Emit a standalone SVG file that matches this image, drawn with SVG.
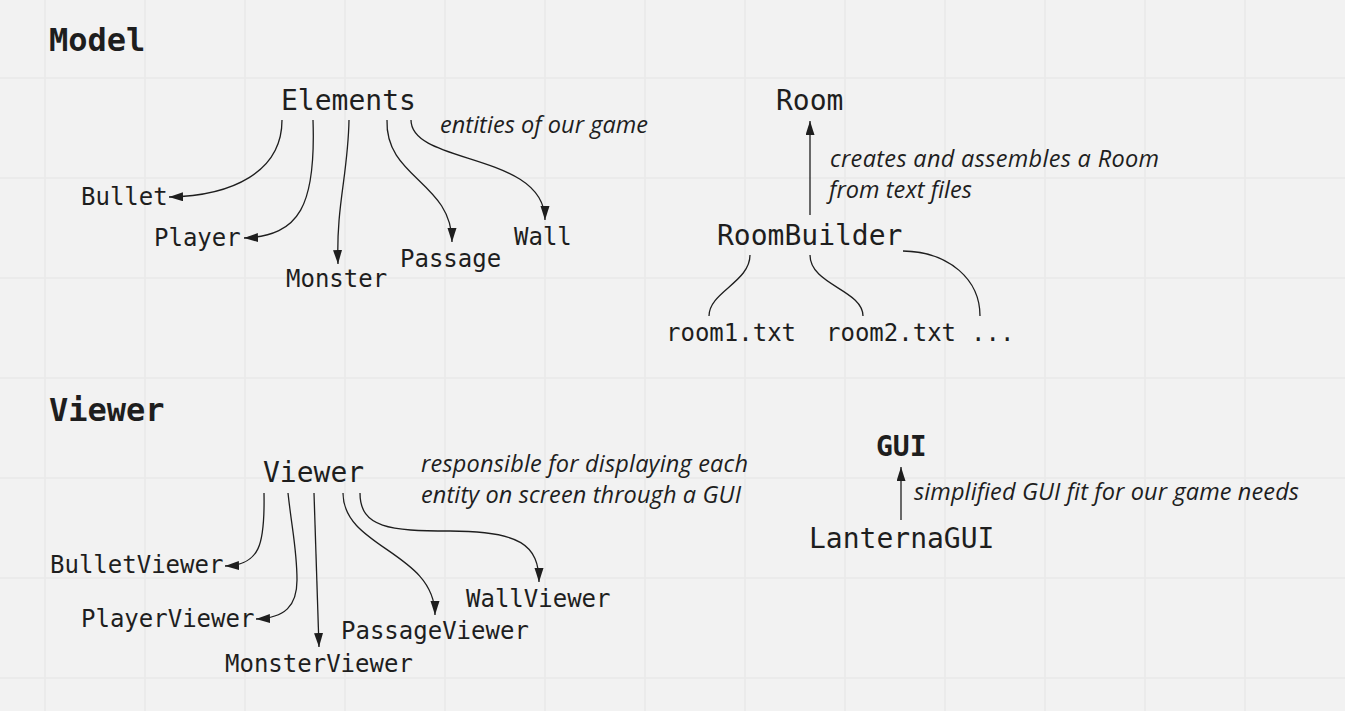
<svg xmlns="http://www.w3.org/2000/svg" width="1345" height="711" viewBox="0 0 1345 711">
<defs>
<style>
.mono{font-family:"DejaVu Sans Mono","Liberation Mono",monospace;fill:#1e1e1e}
.p{font-size:28px}
.c{font-size:24px}
.h{font-size:32px;font-weight:bold}
.hb{font-size:28px;font-weight:bold}
.note{font-family:"Open Sans","Noto Sans",sans-serif;font-style:italic;font-size:23.5px;fill:#1e1e1e}
.edge{fill:none;stroke:#1e1e1e;stroke-width:1.3}
.grid{stroke:#e9e9e9;stroke-width:1.6}
</style>
<marker id="ah" markerUnits="userSpaceOnUse" markerWidth="15" markerHeight="10" refX="14" refY="4.5" orient="auto">
<path d="M0,0 L14,4.5 L0,9 Z" fill="#1e1e1e"/>
</marker>
</defs>
<rect width="1345" height="711" fill="#f2f2f2"/>
<g id="grid">
<path class="grid" d="M45 0V711M145 0V711M245 0V711M345 0V711M445 0V711M545 0V711M645 0V711M745 0V711M845 0V711M945 0V711M1045 0V711M1145 0V711M1245 0V711M0 78H1345M0 178H1345M0 278H1345M0 378H1345M0 478H1345M0 578H1345M0 678H1345"/>
</g>
<g id="connectors">
<path class="edge" marker-end="url(#ah)" d="M282 120 C282 172 232 196 169 197"/>
<path class="edge" marker-end="url(#ah)" d="M313 120 C316 205 300 236 244 238"/>
<path class="edge" marker-end="url(#ah)" d="M349 120 C348 175 336 205 338 264"/>
<path class="edge" marker-end="url(#ah)" d="M387 120 C385 178 452 182 452 242"/>
<path class="edge" marker-end="url(#ah)" d="M411 120 C411 165 545 152 545 220"/>
<path class="edge" marker-end="url(#ah)" d="M810 215 L810 121"/>
<path class="edge" d="M750 255 C750 282 709 292 709 316"/>
<path class="edge" d="M810 255 C810 285 863 290 863 316"/>
<path class="edge" d="M903 251 C950 252 980 280 980 316"/>
<path class="edge" marker-end="url(#ah)" d="M264 493 C265 545 260 565 225 566"/>
<path class="edge" marker-end="url(#ah)" d="M288 493 C292 530 297 550 297 580 C297 606 285 618 256 619"/>
<path class="edge" marker-end="url(#ah)" d="M314 493 L319 647"/>
<path class="edge" marker-end="url(#ah)" d="M343 493 C343 548 435 552 435 615"/>
<path class="edge" marker-end="url(#ah)" d="M360 493 C360 528 390 531 450 531 C520 531 539 545 539 582"/>
<path class="edge" marker-end="url(#ah)" d="M901 520 L901 467"/>
</g>
<g id="title-model"><text class="mono h" x="49" y="51">Model</text></g>
<g id="node-elements"><text class="mono p" x="281" y="110">Elements</text></g>
<g id="note-elements"><text class="note" x="440" y="133" textLength="208">entities of our game</text></g>
<g id="node-bullet"><text class="mono c" x="81" y="205">Bullet</text></g>
<g id="node-player"><text class="mono c" x="154" y="246">Player</text></g>
<g id="node-monster"><text class="mono c" x="286" y="287">Monster</text></g>
<g id="node-passage"><text class="mono c" x="400" y="267">Passage</text></g>
<g id="node-wall"><text class="mono c" x="514" y="245">Wall</text></g>
<g id="node-room"><text class="mono p" x="776" y="110">Room</text></g>
<g id="note-room"><text class="note" x="830" y="167" textLength="329">creates and assembles a Room</text><text class="note" x="829" y="198" textLength="143">from text files</text></g>
<g id="node-roombuilder"><text class="mono p" x="717" y="245">RoomBuilder</text></g>
<g id="node-room1"><text class="mono c" x="666" y="341">room1.txt</text></g>
<g id="node-room2"><text class="mono c" x="826" y="341">room2.txt</text></g>
<g id="node-more"><text class="mono c" x="971" y="341">...</text></g>
<g id="title-viewer"><text class="mono h" x="49" y="421">Viewer</text></g>
<g id="node-viewer"><text class="mono p" x="263" y="482">Viewer</text></g>
<g id="note-viewer"><text class="note" x="421" y="472" textLength="327">responsible for displaying each</text><text class="note" x="421" y="503" textLength="320">entity on screen through a GUI</text></g>
<g id="node-bulletviewer"><text class="mono c" x="50" y="573">BulletViewer</text></g>
<g id="node-playerviewer"><text class="mono c" x="81" y="627">PlayerViewer</text></g>
<g id="node-monsterviewer"><text class="mono c" x="225" y="672">MonsterViewer</text></g>
<g id="node-passageviewer"><text class="mono c" x="341" y="639">PassageViewer</text></g>
<g id="node-wallviewer"><text class="mono c" x="466" y="607">WallViewer</text></g>
<g id="node-gui"><text class="mono hb" x="876" y="456">GUI</text></g>
<g id="note-gui"><text class="note" x="914" y="500" textLength="385">simplified GUI fit for our game needs</text></g>
<g id="node-lanternagui"><text class="mono p" x="809" y="548">LanternaGUI</text></g>
</svg>
